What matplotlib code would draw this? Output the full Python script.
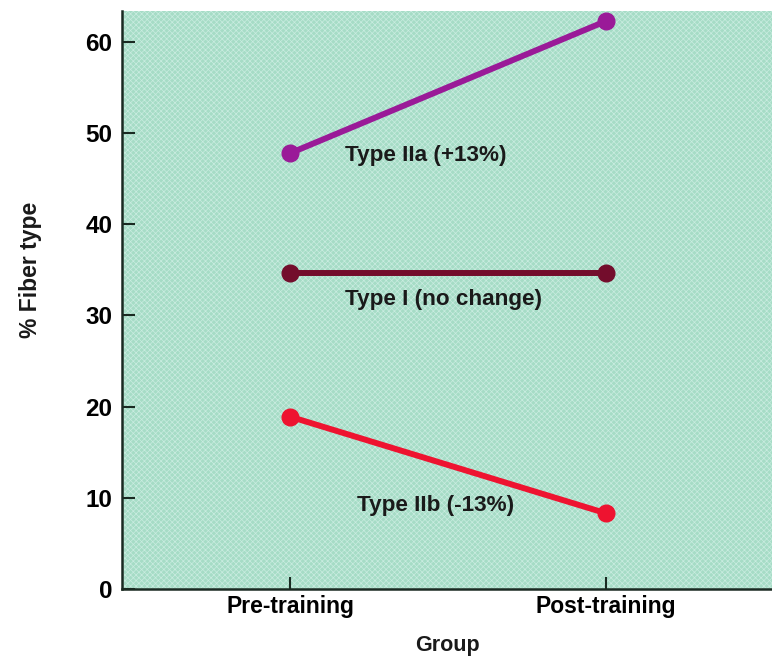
import matplotlib.pyplot as plt

plt.rcParams['font.family'] = ['Liberation Sans', 'DejaVu Sans']
plt.rcParams['hatch.linewidth'] = 0.5

# data
groups = ['Pre-training', 'Post-training']
type_IIa = [47.8, 62.3]
type_I = [34.7, 34.7]
type_IIb = [18.9, 8.3]
yticks = [0, 10, 20, 30, 40, 50, 60]

series = [
    (type_IIa, '#9a1a98', 'Type IIa (+13%)', (0.43, 47.6)),
    (type_I, '#730d2c', 'Type I (no change)', (0.487, 31.7)),
    (type_IIb, '#ee1330', 'Type IIb (-13%)', (0.459, 9.2)),
]

fig = plt.figure(figsize=(7.72, 6.57), dpi=100)
ax = fig.add_axes([122/772, 68/657, 650/772, 578/657])

# mint green hatched background
ax.set_facecolor('#a6dcc6')
bg = plt.Rectangle((0, 0), 1, 1, transform=ax.transAxes, facecolor='none',
                   edgecolor='#c9ece0', hatch='xxxxxx', linewidth=0, zorder=0)
ax.add_patch(bg)

x = list(range(len(groups)))
for vals, col, label, pos in series:
    ax.plot(x, vals, color=col, lw=4.3, marker='o', ms=12, zorder=3,
            solid_capstyle='round')
    ax.text(pos[0], pos[1], label, ha='center', va='center', fontsize=16.2,
            fontweight='bold', color='#1a1a1a', zorder=4)

ax.set_xlim(-0.532, 1.525)
ax.set_ylim(0, 63.4)
ax.set_xticks(x)
ax.set_xticklabels(groups, fontsize=16.5, fontweight='bold')
ax.set_yticks(yticks)
ax.set_yticklabels([str(v) for v in yticks], fontsize=17.5, fontweight='bold')
ax.tick_params(axis='both', direction='in', length=9, width=1.5, color='#1a2a22')
ax.tick_params(axis='y', pad=7)
ax.tick_params(axis='x', pad=4)

for s in ['top', 'right']:
    ax.spines[s].set_visible(False)
for s in ['left', 'bottom']:
    ax.spines[s].set_linewidth(1.8)
    ax.spines[s].set_color('#1a2a22')

fig.text(447/772, 1 - 645/657, 'Group', ha='center', va='center',
         fontsize=15.5, fontweight='bold', color='#1a1a1a')
fig.text(30/772, 1 - 270/657, '% Fiber type', ha='center', va='center',
         rotation=90, fontsize=16.5, fontweight='bold', color='#1a1a1a')

fig.savefig('out.png', dpi=100, facecolor='white')
